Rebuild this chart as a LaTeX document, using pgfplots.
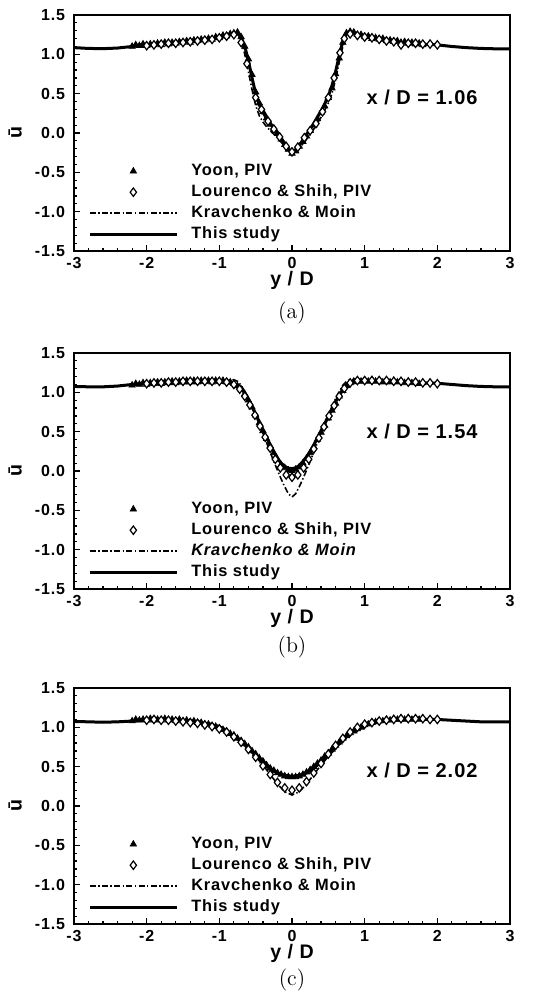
\documentclass[border=0pt]{standalone}
\usepackage{pgfplots}
\pgfplotsset{compat=1.18}
\usepackage{fontspec}
\newfontfamily\hel{Liberation Sans}[LetterSpace=5]
\newcommand\tickfont{\hel\bfseries\fontsize{8}{9}\selectfont}
\newcommand\legfont{\hel\bfseries\fontsize{8.2}{9}\selectfont}
\newcommand\labfont{\hel\bfseries\fontsize{9.8}{11}\selectfont}
\newcommand\annfont{\hel\bfseries\fontsize{10}{12}\selectfont}

\pgfplotsset{
 panel/.style={
  scale only axis, width=218pt, height=118pt,
  xmin=-3,xmax=3,ymin=-1.5,ymax=1.5,
  xtick={-3,-2,-1,0,1,2,3}, ytick={-1.5,-1,-0.5,0,0.5,1,1.5},
  minor x tick num=4, minor y tick num=4,
  tick pos=left, tick align=inside,
  major tick length=3.2pt, minor tick length=1.6pt,
  every tick/.style={black,line width=0.6pt},
  axis line style={line width=0.9pt},
  /pgf/number format/assume math mode=true,
  ticklabel style={font=\tickfont},
  yticklabel style={/pgf/number format/.cd,fixed,fixed zerofill,precision=1,/tikz/.cd,xshift=-1pt},
  xticklabel style={yshift=0.5pt},
  xlabel={y / D}, ylabel={ū},
  label style={font=\labfont},
  xlabel style={at={(axis description cs:0.5,-0.123)},anchor=center},
  ylabel style={at={(axis description cs:-0.135,0.5)},anchor=center},
  legend style={draw=none,fill=none,at={(axis description cs:0.032,0.372)},anchor=north west,
    inner sep=0pt,row sep=2.9pt,font=\legfont,
    nodes={inner sep=0pt,text height=6pt,text depth=1.6pt},
    /tikz/every odd column/.append style={column sep=6.5pt}},
  legend cell align=left,
  legend image code/.code={\path[draw=none,fill=none] (0pt,0pt) -- (43.5pt,0pt);
    \draw[mark repeat=2,mark phase=2,##1] plot coordinates {(0pt,0pt)(21.75pt,0pt)(43.5pt,0pt)};},
 },
 yoon/.style={black, only marks, mark=triangle*, mark size=1.8pt, mark options={solid}, forget plot},
 lour/.style={black, only marks, mark=diamond*, mark size=2.1pt, mark options={solid,fill=white,line width=0.6pt}, forget plot},
 yoonleg/.style={legend image code/.code={\draw[white,fill=none,solid,line width=0.2pt] (0pt,0pt) -- (43.5pt,0pt);
    \draw[black, solid, only marks, mark=triangle*, mark size=1.8pt] plot coordinates {(21.75pt,0pt)};}},
 lourleg/.style={legend image code/.code={\draw[white,fill=none,solid,line width=0.2pt] (0pt,0pt) -- (43.5pt,0pt);
    \draw[black, solid, only marks, mark=diamond*, mark size=2.1pt, mark options={fill=white,line width=0.6pt}] plot coordinates {(21.75pt,0pt)};}},
 krav/.style={black, no marks, line width=0.8pt, dash pattern=on 3pt off 1.2pt on 0.7pt off 1.2pt},
 this/.style={black, no marks, line width=1.5pt},
}

\begin{document}
\begin{tikzpicture}
% ---------------- (a) ----------------
\begin{axis}[panel, at={(37pt,-7.5pt)}, anchor=north west]
\addplot[yoon] coordinates {
(-2.20,1.10)(-2.15,1.12)(-2.10,1.11)(-2.05,1.13)(-2.00,1.11)(-1.95,1.13)(-1.90,1.12)(-1.85,1.14)
(-1.80,1.12)(-1.75,1.15)(-1.70,1.13)(-1.65,1.15)(-1.60,1.14)(-1.55,1.16)(-1.50,1.15)(-1.45,1.17)
(-1.40,1.15)(-1.35,1.18)(-1.30,1.17)(-1.25,1.19)(-1.20,1.18)(-1.15,1.20)(-1.10,1.19)(-1.05,1.22)
(-1.00,1.21)(-0.95,1.24)(-0.90,1.23)(-0.85,1.26)(-0.80,1.27)(-0.75,1.28)(-0.70,1.22)(-0.65,1.10)
(-0.60,0.94)(-0.55,0.74)(-0.50,0.52)(-0.45,0.38)(-0.40,0.27)(-0.35,0.19)(-0.30,0.11)(-0.25,0.05)
(-0.20,-0.01)(-0.15,-0.08)(-0.10,-0.15)(-0.05,-0.21)(0.00,-0.26)(0.05,-0.23)(0.10,-0.17)(0.15,-0.11)
(0.20,-0.04)(0.25,0.03)(0.30,0.10)(0.35,0.18)(0.40,0.26)(0.45,0.34)(0.50,0.45)(0.55,0.57)
(0.60,0.75)(0.65,0.95)(0.70,1.15)(0.75,1.27)(0.80,1.29)(0.85,1.28)(0.90,1.25)(0.95,1.25)
(1.00,1.22)(1.05,1.23)(1.10,1.20)(1.15,1.21)(1.20,1.19)(1.25,1.20)(1.30,1.17)(1.35,1.18)
(1.40,1.16)(1.45,1.17)(1.50,1.15)(1.55,1.16)(1.60,1.14)(1.65,1.15)(1.70,1.13)(1.75,1.14)(1.80,1.12)};
\addplot[lour] coordinates {
(-2.0,1.11)(-1.9,1.12)(-1.8,1.13)(-1.7,1.14)(-1.6,1.14)(-1.5,1.15)(-1.4,1.16)(-1.3,1.17)(-1.2,1.18)
(-1.1,1.19)(-1.0,1.21)(-0.9,1.23)(-0.8,1.25)(-0.7,1.15)(-0.62,0.88)(-0.5,0.45)(-0.42,0.30)(-0.33,0.15)
(-0.25,0.05)(-0.17,-0.05)(-0.08,-0.17)(0.0,-0.24)(0.08,-0.18)(0.17,-0.06)(0.25,0.03)(0.33,0.12)
(0.42,0.27)(0.5,0.45)(0.58,0.70)(0.66,1.02)(0.72,1.20)(0.8,1.26)(0.9,1.24)(1.0,1.22)(1.1,1.21)
(1.2,1.19)(1.3,1.17)(1.4,1.16)(1.5,1.12)(1.6,1.14)(1.7,1.14)(1.8,1.13)(1.9,1.13)(2.0,1.12)};
\addlegendimage{yoonleg}
\addlegendentry{Yoon, PIV}
\addlegendimage{lourleg}
\addlegendentry{Lourenco \& Shih, PIV}
\addplot[krav] coordinates {
(-3.0,1.085)(-2.8,1.075)(-2.6,1.072)(-2.4,1.08)(-2.2,1.10)(-2.0,1.115)(-1.8,1.13)(-1.6,1.145)
(-1.4,1.16)(-1.2,1.18)(-1.0,1.21)(-0.9,1.235)(-0.8,1.26)(-0.75,1.25)(-0.7,1.18)(-0.65,1.0)
(-0.6,0.78)(-0.55,0.55)(-0.5,0.35)(-0.45,0.22)(-0.4,0.14)(-0.35,0.08)(-0.3,0.03)(-0.2,-0.06)
(-0.1,-0.17)(0,-0.27)(0.1,-0.2)(0.2,-0.08)(0.3,0.05)(0.4,0.2)(0.5,0.38)(0.55,0.5)(0.6,0.68)
(0.65,0.9)(0.7,1.1)(0.75,1.24)(0.8,1.27)(0.9,1.25)(1.0,1.22)(1.2,1.19)(1.4,1.16)(1.6,1.14)
(1.8,1.13)(2.0,1.12)(2.2,1.10)(2.4,1.085)(2.6,1.075)(2.8,1.07)(3.0,1.07)};
\addlegendentry{Kravchenko \& Moin}
\addplot[this] coordinates {
(-3.0,1.085)(-2.8,1.075)(-2.6,1.072)(-2.4,1.08)(-2.2,1.10)(-2.0,1.115)(-1.8,1.13)(-1.6,1.145)
(-1.4,1.16)(-1.2,1.18)(-1.0,1.21)(-0.9,1.235)(-0.8,1.26)(-0.75,1.265)(-0.7,1.22)(-0.65,1.10)
(-0.6,0.92)(-0.55,0.70)(-0.5,0.50)(-0.45,0.36)(-0.4,0.26)(-0.35,0.19)(-0.3,0.12)(-0.25,0.06)
(-0.2,0.0)(-0.15,-0.07)(-0.1,-0.14)(-0.05,-0.21)(0.0,-0.25)(0.05,-0.22)(0.1,-0.16)(0.15,-0.09)
(0.2,-0.02)(0.25,0.05)(0.3,0.12)(0.35,0.20)(0.4,0.28)(0.45,0.37)(0.5,0.47)(0.55,0.60)(0.6,0.78)
(0.65,0.98)(0.7,1.17)(0.75,1.27)(0.8,1.27)(0.9,1.25)(1.0,1.22)(1.2,1.19)(1.4,1.16)(1.6,1.14)
(1.8,1.13)(2.0,1.12)(2.2,1.10)(2.4,1.085)(2.6,1.075)(2.8,1.07)(3.0,1.07)};
\addlegendentry{This study}
\node[font=\annfont] at (axis cs:1.79,0.45) {x / D = 1.06};
\end{axis}
% ---------------- (b) ----------------
\begin{axis}[panel, at={(37pt,-176.5pt)}, anchor=north west]
\addplot[yoon] coordinates {
(-2.20,1.09)(-2.15,1.11)(-2.10,1.10)(-2.05,1.12)(-2.00,1.10)(-1.95,1.12)(-1.90,1.11)(-1.85,1.13)
(-1.80,1.11)(-1.75,1.13)(-1.70,1.12)(-1.65,1.14)(-1.60,1.12)(-1.55,1.14)(-1.50,1.13)(-1.45,1.15)
(-1.40,1.13)(-1.35,1.15)(-1.30,1.13)(-1.25,1.15)(-1.20,1.14)(-1.15,1.15)(-1.10,1.13)(-1.05,1.15)
(-1.00,1.14)(-0.95,1.15)(-0.90,1.13)(-0.85,1.13)(-0.80,1.11)(-0.75,1.08)(-0.70,1.04)(-0.65,0.98)
(-0.60,0.90)(-0.55,0.81)(-0.50,0.71)(-0.45,0.61)(-0.40,0.51)(-0.35,0.41)(-0.30,0.32)(-0.25,0.23)
(-0.20,0.15)(-0.15,0.08)(-0.10,0.04)(-0.05,0.01)(0.00,0.00)(0.05,0.02)(0.10,0.05)(0.15,0.10)
(0.20,0.16)(0.25,0.23)(0.30,0.31)(0.35,0.40)(0.40,0.49)(0.45,0.58)(0.50,0.67)(0.55,0.77)
(0.60,0.86)(0.65,0.95)(0.70,1.02)(0.75,1.08)(0.80,1.12)(0.85,1.14)(0.90,1.15)(0.95,1.14)
(1.00,1.15)(1.05,1.14)(1.10,1.16)(1.15,1.14)(1.20,1.15)(1.25,1.13)(1.30,1.15)(1.35,1.13)
(1.40,1.15)(1.45,1.13)(1.50,1.14)(1.55,1.12)(1.60,1.14)(1.65,1.12)(1.70,1.13)(1.75,1.11)(1.80,1.12)};
\addplot[lour] coordinates {
(-2.0,1.11)(-1.9,1.12)(-1.8,1.12)(-1.7,1.13)(-1.6,1.13)(-1.5,1.14)(-1.4,1.14)(-1.3,1.14)(-1.2,1.14)
(-1.1,1.14)(-1.0,1.14)(-0.9,1.13)(-0.8,1.10)(-0.72,1.04)(-0.65,0.95)(-0.58,0.84)(-0.51,0.71)
(-0.44,0.57)(-0.37,0.43)(-0.30,0.29)(-0.23,0.15)(-0.16,0.04)(-0.08,-0.05)(0.0,-0.08)(0.08,-0.05)
(0.16,0.04)(0.23,0.15)(0.30,0.28)(0.37,0.42)(0.44,0.56)(0.51,0.70)(0.58,0.83)(0.65,0.95)(0.72,1.05)
(0.8,1.12)(0.9,1.15)(1.0,1.15)(1.1,1.15)(1.2,1.15)(1.3,1.15)(1.4,1.14)(1.5,1.14)(1.6,1.13)
(1.7,1.13)(1.8,1.12)(1.9,1.12)(2.0,1.11)};
\addlegendimage{yoonleg}
\addlegendentry{Yoon, PIV}
\addlegendimage{lourleg}
\addlegendentry{Lourenco \& Shih, PIV}
\addplot[krav] coordinates {
(-3.0,1.075)(-2.8,1.07)(-2.6,1.07)(-2.4,1.08)(-2.2,1.10)(-2.0,1.11)(-1.8,1.115)(-1.6,1.12)
(-1.4,1.125)(-1.2,1.135)(-1.0,1.145)(-0.9,1.155)(-0.8,1.16)(-0.75,1.14)(-0.7,1.09)(-0.65,1.01)
(-0.6,0.92)(-0.55,0.82)(-0.5,0.71)(-0.45,0.60)(-0.4,0.48)(-0.35,0.36)(-0.3,0.24)(-0.25,0.12)
(-0.2,0.01)(-0.15,-0.10)(-0.1,-0.20)(-0.05,-0.29)(0,-0.33)(0.05,-0.29)(0.1,-0.20)(0.15,-0.10)
(0.2,0.01)(0.25,0.12)(0.3,0.24)(0.35,0.36)(0.4,0.48)(0.45,0.60)(0.5,0.71)(0.55,0.82)(0.6,0.92)
(0.65,1.01)(0.7,1.09)(0.75,1.14)(0.8,1.16)(0.9,1.16)(1.0,1.15)(1.2,1.14)(1.4,1.13)(1.6,1.125)
(1.8,1.12)(2.0,1.115)(2.2,1.10)(2.4,1.085)(2.6,1.075)(2.8,1.07)(3.0,1.07)};
\addlegendentry{\itshape Kravchenko \& Moin}
\addplot[this] coordinates {
(-3.0,1.075)(-2.8,1.07)(-2.6,1.07)(-2.4,1.08)(-2.2,1.10)(-2.0,1.11)(-1.8,1.115)(-1.6,1.12)
(-1.4,1.125)(-1.2,1.13)(-1.0,1.13)(-0.9,1.125)(-0.8,1.11)(-0.75,1.09)(-0.7,1.05)(-0.65,0.99)
(-0.6,0.91)(-0.55,0.82)(-0.5,0.72)(-0.45,0.62)(-0.4,0.52)(-0.35,0.42)(-0.3,0.33)(-0.25,0.24)
(-0.2,0.16)(-0.15,0.10)(-0.1,0.06)(-0.05,0.035)(0.0,0.03)(0.05,0.04)(0.1,0.07)(0.15,0.12)
(0.2,0.18)(0.25,0.25)(0.3,0.33)(0.35,0.42)(0.4,0.51)(0.45,0.60)(0.5,0.69)(0.55,0.79)(0.6,0.88)
(0.65,0.96)(0.7,1.03)(0.75,1.08)(0.8,1.11)(0.9,1.13)(1.0,1.135)(1.2,1.135)(1.4,1.13)(1.6,1.125)
(1.8,1.12)(2.0,1.115)(2.2,1.10)(2.4,1.085)(2.6,1.075)(2.8,1.07)(3.0,1.07)};
\addlegendentry{This study}
\node[font=\annfont] at (axis cs:1.79,0.50) {x / D = 1.54};
\end{axis}
% ---------------- (c) ----------------
\begin{axis}[panel, at={(37pt,-344pt)}, anchor=north west]
\addplot[yoon] coordinates {
(-2.20,1.08)(-2.15,1.10)(-2.10,1.09)(-2.05,1.10)(-2.00,1.09)(-1.95,1.11)(-1.90,1.09)(-1.85,1.10)
(-1.80,1.09)(-1.75,1.11)(-1.70,1.09)(-1.65,1.10)(-1.60,1.08)(-1.55,1.10)(-1.50,1.08)(-1.45,1.09)
(-1.40,1.07)(-1.35,1.08)(-1.30,1.06)(-1.25,1.06)(-1.20,1.04)(-1.15,1.04)(-1.10,1.02)(-1.05,1.01)
(-1.00,0.99)(-0.95,0.97)(-0.90,0.95)(-0.85,0.92)(-0.80,0.90)(-0.75,0.86)(-0.70,0.83)(-0.65,0.79)
(-0.60,0.75)(-0.55,0.70)(-0.50,0.66)(-0.45,0.61)(-0.40,0.57)(-0.35,0.52)(-0.30,0.48)(-0.25,0.45)
(-0.20,0.42)(-0.15,0.40)(-0.10,0.38)(-0.05,0.37)(0.00,0.37)(0.05,0.37)(0.10,0.38)(0.15,0.40)
(0.20,0.43)(0.25,0.46)(0.30,0.50)(0.35,0.54)(0.40,0.58)(0.45,0.63)(0.50,0.67)(0.55,0.72)
(0.60,0.77)(0.65,0.81)(0.70,0.86)(0.75,0.89)(0.80,0.93)(0.85,0.95)(0.90,0.98)(0.95,1.00)
(1.00,1.03)(1.05,1.04)(1.10,1.06)(1.15,1.07)(1.20,1.08)(1.25,1.08)(1.30,1.10)(1.35,1.09)
(1.40,1.11)(1.45,1.10)(1.50,1.11)(1.55,1.10)(1.60,1.12)(1.65,1.10)(1.70,1.11)(1.75,1.10)(1.80,1.11)};
\addplot[lour] coordinates {
(-2.0,1.09)(-1.9,1.10)(-1.8,1.09)(-1.7,1.09)(-1.6,1.08)(-1.5,1.07)(-1.4,1.06)(-1.3,1.05)(-1.2,1.03)
(-1.1,1.01)(-1.0,0.98)(-0.9,0.94)(-0.8,0.88)(-0.7,0.81)(-0.6,0.72)(-0.5,0.62)(-0.4,0.51)(-0.3,0.40)
(-0.2,0.30)(-0.1,0.23)(0.0,0.20)(0.1,0.23)(0.2,0.31)(0.3,0.42)(0.4,0.54)(0.5,0.66)(0.6,0.77)
(0.7,0.86)(0.8,0.94)(0.9,1.00)(1.0,1.04)(1.1,1.06)(1.2,1.08)(1.3,1.09)(1.4,1.10)(1.5,1.11)
(1.6,1.11)(1.7,1.11)(1.8,1.11)(1.9,1.10)(2.0,1.10)};
\addlegendimage{yoonleg}
\addlegendentry{Yoon, PIV}
\addlegendimage{lourleg}
\addlegendentry{Lourenco \& Shih, PIV}
\addplot[krav] coordinates {
(-3.0,1.075)(-2.6,1.065)(-2.2,1.08)(-2.0,1.09)(-1.8,1.10)(-1.6,1.10)(-1.4,1.09)(-1.2,1.07)
(-1.0,1.02)(-0.9,0.97)(-0.8,0.90)(-0.7,0.82)(-0.6,0.73)(-0.5,0.63)(-0.4,0.52)(-0.3,0.40)
(-0.2,0.28)(-0.1,0.18)(0,0.14)(0.1,0.18)(0.2,0.28)(0.3,0.40)(0.4,0.52)(0.5,0.63)(0.6,0.73)
(0.7,0.82)(0.8,0.90)(0.9,0.96)(1.0,1.01)(1.2,1.06)(1.4,1.09)(1.6,1.10)(1.8,1.10)(2.0,1.10)
(2.2,1.09)(2.6,1.07)(3.0,1.07)};
\addlegendentry{Kravchenko \& Moin}
\addplot[this] coordinates {
(-3.0,1.075)(-2.8,1.07)(-2.6,1.065)(-2.4,1.07)(-2.2,1.08)(-2.0,1.09)(-1.8,1.095)(-1.6,1.09)
(-1.4,1.08)(-1.2,1.05)(-1.0,1.01)(-0.9,0.95)(-0.8,0.89)(-0.7,0.82)(-0.6,0.73)(-0.5,0.64)
(-0.4,0.55)(-0.3,0.47)(-0.2,0.42)(-0.1,0.39)(0,0.375)(0.1,0.39)(0.2,0.42)(0.3,0.48)(0.4,0.56)
(0.5,0.65)(0.6,0.75)(0.7,0.84)(0.8,0.92)(0.9,0.98)(1.0,1.03)(1.2,1.07)(1.4,1.09)(1.6,1.10)
(1.8,1.10)(2.0,1.10)(2.2,1.09)(2.4,1.08)(2.6,1.07)(2.8,1.07)(3.0,1.07)};
\addlegendentry{This study}
\node[font=\annfont] at (axis cs:1.79,0.45) {x / D = 2.02};
\end{axis}
\node[font=\fontsize{11}{13}\selectfont] at (146pt,-156.7pt) {(a)};
\node[font=\fontsize{11}{13}\selectfont] at (146pt,-323.3pt) {(b)};
\node[font=\fontsize{11}{13}\selectfont] at (146pt,-490pt) {(c)};
\pgfresetboundingbox
\path (0pt,0pt) rectangle (275pt,-497.5pt);
\end{tikzpicture}
\end{document}
